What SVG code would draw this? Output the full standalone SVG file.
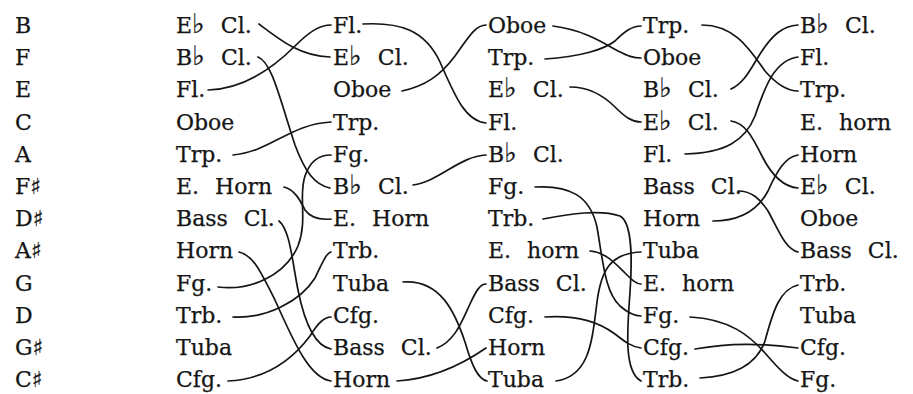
<svg xmlns="http://www.w3.org/2000/svg" width="913" height="394" viewBox="0 0 913 394">
<style>
text{font-family:"DejaVu Serif","DejaVu Sans",serif;font-size:22px;fill:#151515;stroke:#151515;stroke-width:0.25;word-spacing:9px}
.f{font-size:27px}
.c path{fill:none;stroke:#151515;stroke-width:1.7;stroke-linecap:round}
</style>
<rect width="913" height="394" fill="#fff"/>
<g id="keys">
<g id="k0"><text x="15" y="33">B</text></g>
<g id="k1"><text x="15" y="65">F</text></g>
<g id="k2"><text x="15" y="97">E</text></g>
<g id="k3"><text x="15" y="130">C</text></g>
<g id="k4"><text x="15" y="162">A</text></g>
<g id="k5"><text x="15" y="194">F♯</text></g>
<g id="k6"><text x="15" y="226">D♯</text></g>
<g id="k7"><text x="15" y="258">A♯</text></g>
<g id="k8"><text x="15" y="291">G</text></g>
<g id="k9"><text x="15" y="323">D</text></g>
<g id="k10"><text x="15" y="355">G♯</text></g>
<g id="k11"><text x="15" y="387">C♯</text></g>
</g>
<g id="col1">
<g id="a0"><text x="176" y="33">E<tspan class="f">♭</tspan> Cl.</text></g>
<g id="a1"><text x="176" y="65">B<tspan class="f">♭</tspan> Cl.</text></g>
<g id="a2"><text x="176" y="97">Fl.</text></g>
<g id="a3"><text x="176" y="130">Oboe</text></g>
<g id="a4"><text x="176" y="162">Trp.</text></g>
<g id="a5"><text x="176" y="194">E. Horn</text></g>
<g id="a6"><text x="176" y="226">Bass Cl.</text></g>
<g id="a7"><text x="176" y="258">Horn</text></g>
<g id="a8"><text x="176" y="291">Fg.</text></g>
<g id="a9"><text x="176" y="323">Trb.</text></g>
<g id="a10"><text x="176" y="355">Tuba</text></g>
<g id="a11"><text x="176" y="387">Cfg.</text></g>
</g>
<g id="col2">
<g id="b0"><text x="333" y="33">Fl.</text></g>
<g id="b1"><text x="333" y="65">E<tspan class="f">♭</tspan> Cl.</text></g>
<g id="b2"><text x="333" y="97">Oboe</text></g>
<g id="b3"><text x="333" y="130">Trp.</text></g>
<g id="b4"><text x="333" y="162">Fg.</text></g>
<g id="b5"><text x="333" y="194">B<tspan class="f">♭</tspan> Cl.</text></g>
<g id="b6"><text x="333" y="226">E. Horn</text></g>
<g id="b7"><text x="333" y="258">Trb.</text></g>
<g id="b8"><text x="333" y="291">Tuba</text></g>
<g id="b9"><text x="333" y="323">Cfg.</text></g>
<g id="b10"><text x="333" y="355">Bass Cl.</text></g>
<g id="b11"><text x="333" y="387">Horn</text></g>
</g>
<g id="col3">
<g id="c0"><text x="488" y="33">Oboe</text></g>
<g id="c1"><text x="488" y="65">Trp.</text></g>
<g id="c2"><text x="488" y="97">E<tspan class="f">♭</tspan> Cl.</text></g>
<g id="c3"><text x="488" y="130">Fl.</text></g>
<g id="c4"><text x="488" y="162">B<tspan class="f">♭</tspan> Cl.</text></g>
<g id="c5"><text x="488" y="194">Fg.</text></g>
<g id="c6"><text x="488" y="226">Trb.</text></g>
<g id="c7"><text x="488" y="258">E. horn</text></g>
<g id="c8"><text x="488" y="291">Bass Cl.</text></g>
<g id="c9"><text x="488" y="323">Cfg.</text></g>
<g id="c10"><text x="488" y="355">Horn</text></g>
<g id="c11"><text x="488" y="387">Tuba</text></g>
</g>
<g id="col4">
<g id="d0"><text x="643" y="33">Trp.</text></g>
<g id="d1"><text x="643" y="65">Oboe</text></g>
<g id="d2"><text x="643" y="97">B<tspan class="f">♭</tspan> Cl.</text></g>
<g id="d3"><text x="643" y="130">E<tspan class="f">♭</tspan> Cl.</text></g>
<g id="d4"><text x="643" y="162">Fl.</text></g>
<g id="d5"><text x="643" y="194">Bass Cl.</text></g>
<g id="d6"><text x="643" y="226">Horn</text></g>
<g id="d7"><text x="643" y="258">Tuba</text></g>
<g id="d8"><text x="643" y="291">E. horn</text></g>
<g id="d9"><text x="643" y="323">Fg.</text></g>
<g id="d10"><text x="643" y="355">Cfg.</text></g>
<g id="d11"><text x="643" y="387">Trb.</text></g>
</g>
<g id="col5">
<g id="e0"><text x="800" y="33">B<tspan class="f">♭</tspan> Cl.</text></g>
<g id="e1"><text x="800" y="65">Fl.</text></g>
<g id="e2"><text x="800" y="97">Trp.</text></g>
<g id="e3"><text x="800" y="130">E. horn</text></g>
<g id="e4"><text x="800" y="162">Horn</text></g>
<g id="e5"><text x="800" y="194">E<tspan class="f">♭</tspan> Cl.</text></g>
<g id="e6"><text x="800" y="226">Oboe</text></g>
<g id="e7"><text x="800" y="258">Bass Cl.</text></g>
<g id="e8"><text x="800" y="291">Trb.</text></g>
<g id="e9"><text x="800" y="323">Tuba</text></g>
<g id="e10"><text x="800" y="355">Cfg.</text></g>
<g id="e11"><text x="800" y="387">Fg.</text></g>
</g>
<g id="connectors" class="c">
<path d="M259 24 C280 40 300 56 330 57"/>
<path d="M258 57 C272 62 280 100 295 145 C305 172 315 185 330 188"/>
<path d="M208 90 C245 89 275 66 295 46 C310 31 320 25 331 25"/>
<path d="M233 155 C270 152 290 124 331 122"/>
<path d="M284 187 C295 190 300 200 305 210 C310 217 320 220 331 219"/>
<path d="M279 221 C290 230 292 260 298 290 C305 325 315 346 331 349"/>
<path d="M239 252 C255 256 262 275 275 300 C295 345 310 378 331 381"/>
<path d="M218 287 C250 291 285 276 298 246 C308 220 298 196 305 176 C310 161 320 155 331 155"/>
<path d="M233 317 C265 319 300 302 315 278 C322 264 326 253 331 252"/>
<path d="M228 381 C270 379 295 356 310 336 C318 323 324 317 331 317"/>
<path d="M363 24 C400 22 425 30 440 62 C455 96 465 121 486 123"/>
<path d="M402 91 C425 86 440 76 455 56 C468 38 475 25 486 25"/>
<path d="M413 185 C440 181 460 156 486 155"/>
<path d="M403 282 C440 279 455 312 465 342 C472 366 478 379 487 381"/>
<path d="M437 348 C455 341 462 321 470 304 C476 291 480 284 486 284"/>
<path d="M397 381 C430 379 460 366 486 348"/>
<path d="M553 26 C585 30 605 44 618 51 C628 56 633 58 641 58"/>
<path d="M545 59 C580 57 605 49 615 41 C625 31 632 26 641 26"/>
<path d="M570 87 C590 87 605 97 615 107 C625 117 632 122 641 122"/>
<path d="M535 187 C570 185 590 196 597 227 C603 262 605 292 620 306 C628 313 634 316 641 316"/>
<path d="M543 219 C570 214 600 209 620 216 C633 223 632 262 630 292 C627 332 624 372 641 381"/>
<path d="M590 251 C605 252 615 263 625 273 C632 280 636 284 641 284"/>
<path d="M545 317 C580 315 600 323 615 334 C625 342 632 347 641 348"/>
<path d="M556 381 C590 376 592 341 597 302 C601 271 610 253 641 252"/>
<path d="M702 25 C735 25 750 50 765 71 C778 86 788 91 798 91"/>
<path d="M731 89 C745 83 752 66 762 51 C772 36 782 26 798 25"/>
<path d="M731 121 C745 123 752 136 762 156 C772 176 785 187 798 188"/>
<path d="M685 154 C725 153 745 141 755 116 C765 86 775 60 798 57"/>
<path d="M738 191 C752 191 760 199 768 211 C778 229 785 249 798 252"/>
<path d="M713 221 C745 221 760 206 768 191 C777 171 785 157 798 155"/>
<path d="M690 317 C730 319 750 336 765 353 C778 368 788 379 798 381"/>
<path d="M695 349 C730 343 760 343 798 348"/>
<path d="M700 378 C740 376 758 361 765 341 C773 311 780 289 798 285"/>
</g>
</svg>
